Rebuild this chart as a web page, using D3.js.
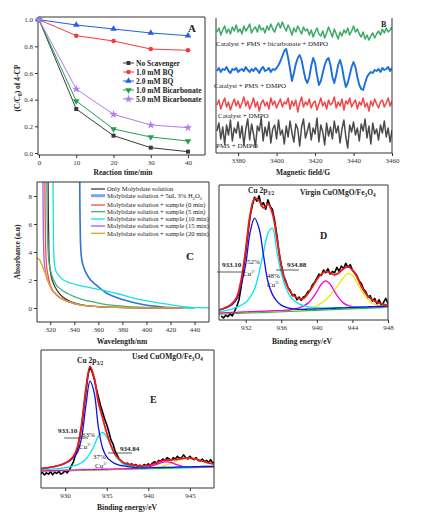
<!DOCTYPE html>
<html><head><meta charset="utf-8">
<script src="https://cdn.jsdelivr.net/npm/d3@7"></script>
<style>body{margin:0;background:#fff}</style>
</head><body><svg id="chart" width="427" height="530" style="background:#fff"></svg>
<script>
// ---------- Panel A data ----------
const timeA = [0, 10, 20, 30, 40];
const namesA = ["No Scavenger", "1.0 mM BQ", "2.0 mM BQ", "1.0 mM Bicarbonate", "5.0 mM Bicarbonate"];
const noScavenger = [1.0, 0.33, 0.13, 0.04, 0.01];
const bq1 = [1.0, 0.88, 0.84, 0.78, 0.77];
const bq2 = [1.0, 0.96, 0.93, 0.90, 0.88];
const bic1 = [1.0, 0.39, 0.18, 0.12, 0.09];
const bic5 = [1.0, 0.48, 0.29, 0.21, 0.19];
const xTicksA = [0, 10, 20, 30, 40];
const yTicksA = [0, 0.2, 0.4, 0.6, 0.8, 1.0];

// ---------- Panel B data (EPR, field step 1 G from 3369 G) ----------
const fieldStartB = 3369;
const labelsB = ["Catalyst + PMS + bicarbonate + DMPO", "Catalyst + PMS + DMPO", "Catalyst + DMPO", "PMS + DMPO"];
const eprBicarb = [121,125,118,123,127,120,124,119,126,122,128,121,
  124,119,127,122,125,129,120,124,126,121,128,123,
  125,120,127,123,129,124,121,127,130,125,131,126,
  122,128,124,118,125,121,127,123,119,126,122,124,
  118,123,116,121,125,119,117,122,115,120,126,121,
  116,124,119,114,121,117,123,120,125,118,122,127,
  121,124,119,116,121,114,118,113,117,120,115,119,
  122,118,124,120,125,121,123,126];
const eprPms = [82,85,81,84,83,86,82,80,84,83,85,81,
  83,84,82,86,83,81,84,82,85,83,80,84,
  86,82,83,85,81,84,83,
  85,88,92,97,102,104,95,84,72,80,
  89,95,98,93,83,74,70,76,87,95,
  90,78,68,72,80,88,93,95,88,76,
  70,78,88,93,86,75,66,70,78,86,
  91,86,76,68,64,63,70,76,79,81,
  80,83,82,84,81,85,83,84,86,82,85];
const eprCat = [48,53,44,50,55,46,51,43,49,54,47,52,
  45,50,56,47,52,44,49,55,46,51,42,50,
  53,47,51,44,55,48,52,45,50,54,46,51,
  49,55,44,52,47,53,41,50,56,46,51,48,
  54,45,50,52,43,49,55,47,51,44,53,48,
  50,56,45,51,47,54,43,52,49,55,46,50,
  53,44,51,48,55,46,50,42,52,47,54,49,
  45,51,53,46,50,55,47,52];
const eprPmsOnly = [22,30,14,26,9,28,18,33,12,25,20,31,
  15,27,8,24,34,13,29,19,6,27,22,35,
  12,26,17,31,10,24,28,14,33,18,23,9,
  27,16,32,20,11,29,24,7,26,34,15,22,
  30,13,25,19,35,11,28,21,8,30,17,26,
  14,32,20,27,10,24,33,16,5,28,21,31,
  18,25,12,29,22,34,15,27,9,30,19,24,
  13,28,20,32,16,25,11,23];
const xTicksB = [3380, 3400, 3420, 3440, 3460];

// ---------- Panel C data ----------
const labelsC = ["Only Molybdate solution", "Molybdate solution + 5uL 3% H2O2", "Molybdate solution + sample (0 min)",
  "Molybdate solution + sample (5 min)", "Molybdate solution + sample (10 min)", "Molybdate solution + sample (15 min)",
  "Molybdate solution + sample (20 min)"];
const cOnlyWl = [318.2, 318.5, 318.9, 319.5, 320.5, 322, 324, 327, 331, 336, 342, 350, 360, 375, 395, 430];
const cOnlyAbs = [9.5, 6.5, 4.2, 3.1, 2.4, 1.9, 1.5, 1.1, 0.75, 0.5, 0.32, 0.18, 0.09, 0.04, 0.01, 0.0];
const cH2O2Wl = [344.5, 344.7, 345, 345.4, 346, 347, 348.5, 350.5, 353, 356, 359.5, 363, 367, 372, 378, 386, 394, 402, 410, 420, 430];
const cH2O2Abs = [9.5, 7, 5.2, 4.2, 3.6, 3.15, 2.75, 2.4, 2.05, 1.8, 1.55, 1.3, 1.05, 0.85, 0.66, 0.46, 0.3, 0.18, 0.1, 0.03, 0.01];
const c0Wl = [315.5, 315.8, 316.2, 316.8, 317.8, 319.5, 321.5, 324, 327, 331, 335, 340, 346, 354, 363, 375, 395, 430];
const c0Abs = [9.5, 6.5, 4.3, 3.2, 2.5, 1.8, 1.33, 1.05, 0.8, 0.6, 0.45, 0.32, 0.21, 0.13, 0.08, 0.04, 0.01, 0.0];
const c5Wl = [317.1, 317.4, 317.8, 318.4, 319.2, 320.5, 322.5, 325, 329.5, 334, 340.5, 347, 354.5, 362, 371, 382, 395, 410, 425, 440];
const c5Abs = [9.5, 7, 5, 3.8, 3.1, 2.6, 2.05, 1.65, 1.29, 1.05, 0.8, 0.6, 0.45, 0.32, 0.2, 0.12, 0.06, 0.03, 0.01, 0.0];
const c10Wl = [322.3, 322.5, 322.7, 323, 323.6, 324.5, 326, 328, 331, 334, 338, 343, 349, 356, 363, 370, 377, 386, 395, 404, 414, 424, 433, 442, 452];
const c10Abs = [9.5, 7, 5, 3.8, 3.1, 2.7, 2.45, 2.24, 2.0, 1.87, 1.75, 1.63, 1.52, 1.4, 1.29, 1.15, 1.0, 0.78, 0.6, 0.45, 0.32, 0.18, 0.07, 0.02, 0.01];
const c15Wl = [313.9, 314.2, 314.6, 315.2, 316, 317.5, 319.5, 321.5, 324, 327, 331, 335, 340, 346, 354, 363, 375, 395, 430];
const c15Abs = [9.5, 6, 4, 3.1, 2.6, 2.08, 1.65, 1.28, 1.05, 0.8, 0.6, 0.45, 0.32, 0.21, 0.13, 0.08, 0.04, 0.01, 0.0];
const c20Wl = [309, 310.5, 311.5, 312.5, 313.5, 314.5, 316, 317.5, 319.5, 321.5, 324, 327, 331, 335, 340, 346, 354, 363, 375, 395, 430];
const c20Abs = [3.55, 3.5, 3.4, 3.2, 3.0, 2.75, 2.45, 2.05, 1.65, 1.28, 1.05, 0.8, 0.6, 0.45, 0.32, 0.21, 0.13, 0.08, 0.04, 0.01, 0.0];
const xTicksC = [320, 340, 360, 380, 400, 420, 440];
const yTicksC = [0, 2, 4, 6, 8];

// ---------- Panel D data (XPS virgin, fits on 0.5 eV grid from 929 eV; raw data 0.25 eV from 929.25 eV) ----------
const dGridStart = 929, dGridStep = 0.5;
const dCu2 = [7.5,8.3,9.5,11.5,15.5,26,41,65,75.5,68,48,28.5,19,14,11,9.5,8.6,8.2,7.9,7.9,8.0,8.1,8.2,8.3,8.5,8.6,8.7,8.9,9.0,9.1,9.2,9.4,9.5,9.6,9.8,9.9,10.0,10.2,10.3];
const dCu3 = [6,6.6,7.3,8.3,9.5,11,13,17,23,35,50,64,68,51,35,24,17.5,14,12,10.7,9.8,9.3,9.0,8.9,8.9,8.9,9.0,9.1,9.2,9.3,9.4,9.5,9.6,9.7,9.9,10.0,10.1,10.3,10.4];
const dSat1 = [5.2,5.3,5.5,5.6,5.7,5.9,6.0,6.1,6.3,6.4,6.5,6.6,6.8,6.9,7.0,7.3,7.6,8.2,9.0,10.5,12.5,16,21,26.5,29,26.5,21,16,12.5,10.8,9.9,9.6,9.5,9.5,9.6,9.7,9.8,10,10.1];
const dSat2 = [5.1,5.2,5.4,5.5,5.6,5.8,5.9,6.0,6.2,6.3,6.4,6.5,6.7,6.8,6.9,7.1,7.2,7.4,7.6,7.9,8.4,9.2,10.5,12.5,15,18.5,22.5,27,31.5,34.5,33,28,22,17,13.5,11.5,10.5,10,9.8];
const dEnvelope = [7.4,8.5,10,12.5,17,30,52,78,90,88.5,83,86,79,61,40,28,21,17.5,15.8,16,19.5,24.5,30,34,35.8,35,33.5,35,38,39.5,37,32,25,19.5,16,14,12.5,11.5,11];
const dBaseE = [929, 948];
const dBaseV = [4.3, 9.3];
const dRawStart = 929.25, dRawStep = 0.25;
const dRaw = [3,1.5,3.5,2.5,4.5,3,6.5,10,15,25,38,50,64,77,85,91,88,92,85,87,82,89,84,82,74,63,50,41,33,29,24,22,18,19,15,17,14.5,17,18,21,22,26,28,31,34,33,37,35,38,34,36,35,39,36,40,38,42,39,41,37,35,33,29,27,23,21,17,18,14,16,12,15,11,13,16,12];
const xTicksD = [932, 936, 940, 944, 948];

// ---------- Panel E data (XPS used, fits on 0.5 eV grid from 927 eV; raw 0.25 eV from 927 eV) ----------
const eGridStart = 927, eGridStep = 0.5;
const eCu2 = [14,14.4,14.8,15.3,16,16.8,18,19.5,22,26,37,60,77.5,69,44,29,22.5,19.5,17.7,16.6,16,15.5,15.1,14.8,14.6,14.5,14.6,14.7,14.7,14.8,14.9,15.0,15.0,15.1,15.2,15.3,15.3,15.4,15.5,15.6,15.6,15.7,15.8];
const eCu3 = [13.2,13.4,13.5,13.7,14,14.3,14.8,15.3,16,17,18.5,21,25,31,37.5,40.3,37,30.5,24,20,17.5,16.3,15.5,15,14.7,14.6,14.6,14.7,14.7,14.8,14.9,15.0,15.0,15.1,15.2,15.3,15.3,15.4,15.5,15.6,15.6,15.7,15.8];
const eSat1 = [12.4,12.5,12.6,12.6,12.7,12.8,12.9,12.9,13.0,13.1,13.2,13.3,13.3,13.4,13.5,13.6,13.6,13.7,13.8,13.9,13.9,14.0,14.1,14.2,14.5,14.8,15.3,16,17.1,18.2,18.9,18.8,17.9,16.8,15.9,15.4,15.2,15.2,15.3,15.4,15.4,15.5,15.6];
const eSat2 = [12.3,12.4,12.5,12.5,12.6,12.7,12.8,12.8,12.9,13.0,13.1,13.2,13.2,13.3,13.4,13.5,13.5,13.6,13.7,13.8,13.8,13.9,14.0,14.1,14.2,14.3,14.5,14.8,15.2,15.7,16.4,17.4,18.6,19.8,20.8,21.4,21.5,21.2,20.4,19.4,18.5,17.8,17.3];
const eEnvelope = [14,14.4,14.8,15.3,16,16.7,18,20,23,30,47,72,88,80,62,51,40,31,24.5,21,18.5,17.5,16.8,16.3,16,16,16.4,17.2,18.3,19.5,20.2,20.3,20.5,20.8,21.3,21.6,21.7,21.2,20.4,19.5,18.6,17.8,17.3];
const eBaseE = [927, 948];
const eBaseV = [12.0, 15.2];
const eRawStart = 927, eRawStep = 0.25;
const eRaw = [10,11.5,9.5,11,10,12,9.5,11.5,10.5,12,10,11,12.5,11,
  13,16,19,24,29,37,45,58,70,82,88,84,79,72,66,60,55,50,46,41,35,32,27,24,21,19.5,18,17,18,16.5,
  17.5,16,17,15.5,16.5,15.5,17,16,17.5,16.5,18,19,18,20,19.5,21,20,22,21,20,22,21,23,21.5,22,24,22,21,23,21.5,
  20.5,22,20,19.5,21,19,20,18.5,20.5,18,19];
const xTicksE = [930, 935, 940, 945];

// ================= drawing =================
const svg = d3.select("#chart");
const FONT = "'Liberation Serif','Times New Roman',serif";
const INK = "#222";
let clipN = 0;
function clip(x0, y0, x1, y1) {
  const id = "clp" + (clipN++);
  svg.append("clipPath").attr("id", id).append("rect")
    .attr("x", x0).attr("y", y0).attr("width", x1 - x0).attr("height", y1 - y0);
  return "url(#" + id + ")";
}
function box(x0, y0, x1, y1, sides) {
  const p = [];
  if (sides.includes("t")) p.push(`M${x0},${y0}H${x1}`);
  if (sides.includes("b")) p.push(`M${x0},${y1}H${x1}`);
  if (sides.includes("l")) p.push(`M${x0},${y0}V${y1}`);
  if (sides.includes("r")) p.push(`M${x1},${y0}V${y1}`);
  svg.append("path").attr("d", p.join("")).attr("fill", "none").attr("stroke", "#333").attr("stroke-width", 1);
}
function styleAxis(g) {
  g.select(".domain").remove();
  g.selectAll("line").attr("stroke", "#333");
  g.selectAll("text").style("font-family", FONT).style("font-size", "7px").attr("fill", "#333");
}
function bottomAxis(scale, y, ticks, fmt) {
  const g = svg.append("g").attr("transform", `translate(0,${y})`)
    .call(d3.axisBottom(scale).tickValues(ticks).tickSize(3).tickPadding(2).tickFormat(fmt || d3.format("d")));
  styleAxis(g);
}
function leftAxis(scale, x, ticks, fmt) {
  const g = svg.append("g").attr("transform", `translate(${x},0)`)
    .call(d3.axisLeft(scale).tickValues(ticks).tickSize(3).tickPadding(2).tickFormat(fmt || d3.format("d")));
  styleAxis(g);
}
// rich text: parts = [[str, mode]] mode: null | "sub" | "sup"
function rich(x, y, parts, size, weight, anchor, rotate) {
  const t = svg.append("text").attr("x", x).attr("y", y)
    .style("font-family", FONT).style("font-size", size + "px").style("font-weight", weight || "normal")
    .attr("fill", INK).attr("text-anchor", anchor || "start");
  if (rotate) t.attr("transform", `rotate(${rotate},${x},${y})`);
  let shift = 0;
  parts.forEach(([s, m]) => {
    const target = m === "sub" ? size * 0.3 : m === "sup" ? -size * 0.4 : 0;
    const ts = t.append("tspan").text(s).attr("dy", target - shift);
    if (m) ts.style("font-size", (size * 0.7) + "px");
    shift = target;
  });
  return t;
}

// ---------- Panel A ----------
{
  const L = 38, R = 205, T = 17, B = 155;
  const x = d3.scaleLinear([-0.27, 44.56], [L, R]);
  const y = d3.scaleLinear([-0.015, 1.02], [B, T]);
  const series = [noScavenger, bq1, bq2, bic1, bic5];
  const colors = ["#3a3a3a", "#f23a3a", "#1f5fe6", "#22a050", "#b07cf0"];
  const shapes = [d3.symbolSquare, d3.symbolCircle, d3.symbolTriangle, d3.symbolTriangle, d3.symbolStar];
  const rot = [0, 0, 0, 180, 0];
  const sizes = [16, 16, 18, 18, 22];
  box(L, T, R, B, "tblr");
  bottomAxis(x, B, xTicksA);
  leftAxis(y, L, yTicksA, d3.format(".1f"));
  const line = d3.line().x((d, i) => x(timeA[i])).y(d => y(d));
  series.forEach((s, k) => {
    svg.append("path").datum(s).attr("d", line).attr("fill", "none").attr("stroke", colors[k]).attr("stroke-width", 1);
    svg.selectAll(null).data(s).enter().append("path")
      .attr("d", d3.symbol().type(shapes[k]).size(sizes[k]))
      .attr("transform", (d, i) => `translate(${x(timeA[i])},${y(d)}) rotate(${rot[k]})`)
      .attr("fill", colors[k]);
  });
  namesA.forEach((n, k) => {
    const yy = 63 + k * 9;
    svg.append("line").attr("x1", 123).attr("x2", 134).attr("y1", yy).attr("y2", yy).attr("stroke", colors[k]).attr("stroke-width", 1);
    svg.append("path").attr("d", d3.symbol().type(shapes[k]).size(sizes[k]))
      .attr("transform", `translate(128.5,${yy}) rotate(${rot[k]})`).attr("fill", colors[k]);
    rich(136, yy + 2.5, [[n, null]], 7.5, "bold");
  });
  rich(188, 32, [["A", null]], 11, "bold");
  rich(123, 175, [["Reaction time/min", null]], 7.5, "bold", "middle");
  rich(20, 88, [["(C/C", null], ["0", "sub"], [") of 4-CP", null]], 7.5, "bold", "middle", -90);
}

// ---------- Panel B ----------
{
  const L = 216, R = 392, T = 18, B = 153;
  const x = d3.scaleLinear([3368.5, 3460], [L, R]);
  const y = d3.scaleLinear([0, 135], [B, T]);
  const cp = clip(L, T - 4, R, B);
  const line = d3.line().x((d, i) => x(fieldStartB + i)).y(d => y(d));
  const traces = [eprPmsOnly, eprCat, eprPms, eprBicarb];
  const colors = ["#4a4a4a", "#f04848", "#1c6fe0", "#3aaa66"];
  const widths = [1.5, 1.5, 1.9, 1.5];
  traces.forEach((s, k) => {
    svg.append("path").datum(s).attr("d", line).attr("clip-path", cp)
      .attr("fill", "none").attr("stroke", colors[k]).attr("stroke-width", widths[k]).attr("stroke-linejoin", "round");
  });
  box(L, T, R, B, "blr");
  bottomAxis(x, B, xTicksB);
  const ly = [46, 88, 118, 148];
  const lx = [216, 214, 218, 216];
  labelsB.forEach((t, k) => rich(lx[k], ly[k], [[t, null]], 7, "normal"));
  rich(381, 27, [["B", null]], 8, "bold");
  rich(303, 175, [["Magnetic field/G", null]], 7.5, "bold", "middle");
}

// ---------- Panel C ----------
{
  const L = 37, R = 209, T = 182, B = 322;
  const x = d3.scaleLinear([309, 452], [L, R]);
  const y = d3.scaleLinear([-1, 9], [B, T]);
  const cp = clip(L, T, R, B);
  const curves = [
    [cOnlyWl, cOnlyAbs, "#333333", 1.2],
    [cH2O2Wl, cH2O2Abs, "#2f72e0", 1.6],
    [c0Wl, c0Abs, "#f24c4c", 1.3],
    [c5Wl, c5Abs, "#3fb37a", 1.3],
    [c10Wl, c10Abs, "#18e0e0", 1.3],
    [c15Wl, c15Abs, "#a060e8", 1.3],
    [c20Wl, c20Abs, "#e3a21a", 1.3]
  ];
  curves.forEach(([wl, ab, col, w]) => {
    const line = d3.line().x((d, i) => x(wl[i])).y(d => y(d)).curve(d3.curveMonotoneX);
    svg.append("path").datum(ab).attr("d", line).attr("clip-path", cp)
      .attr("fill", "none").attr("stroke", col).attr("stroke-width", w);
  });
  box(L, T, R, B, "tblr");
  bottomAxis(x, B, xTicksC);
  leftAxis(y, L, yTicksC);
  const legCols = ["#333333", "#76a6f0", "#f24c4c", "#3fb37a", "#18e0e0", "#a060e8", "#e3a21a"];
  const legW = [1.2, 3, 1.3, 1.3, 1.3, 1.3, 1.3];
  const rows = [189, 195.7, 205, 211.7, 219, 226, 233.3];
  labelsC.forEach((t, k) => {
    svg.append("line").attr("x1", 91).attr("x2", 105).attr("y1", rows[k]).attr("y2", rows[k])
      .attr("stroke", legCols[k]).attr("stroke-width", legW[k]);
    let parts = [[t, null]];
    if (t.endsWith("H2O2")) parts = [[t.slice(0, -4) + "H", null], ["2", "sub"], ["O", null], ["2", "sub"]];
    rich(107, rows[k] + 2.3, parts, 6.6, "normal");
  });
  rich(186, 260, [["C", null]], 11, "bold");
  rich(122, 344, [["Wavelength/nm", null]], 7.5, "bold", "middle");
  rich(20, 252, [["Absorbance (a.u)", null]], 7.5, "bold", "middle", -90);
}

// ---------- XPS helper ----------
function xpsPanel(P) {
  const x = d3.scaleLinear(P.xDomain, [P.L, P.R]);
  const y = d3.scaleLinear([0, 100], [P.B, P.T]);
  const cp = clip(P.L, P.T, P.R, P.B);
  const gridLine = d3.line().x((d, i) => x(P.gStart + i * P.gStep)).y(d => y(d)).curve(d3.curveCatmullRom);
  const rawLine = d3.line().x((d, i) => x(P.rStart + i * P.rStep)).y(d => y(d));
  const baseLine = d3.line().x((d, i) => x(P.baseE[i])).y(d => y(d));
  svg.append("path").datum(P.baseV).attr("d", baseLine).attr("clip-path", cp).attr("fill", "none").attr("stroke", "#22cc22").attr("stroke-width", 1.3);
  svg.append("path").datum(P.raw).attr("d", rawLine).attr("clip-path", cp).attr("fill", "none").attr("stroke", "#000").attr("stroke-width", 1.6).attr("stroke-linejoin", "round");
  const comps = [[P.sat2, "#ecec00"], [P.sat1, "#ee00ee"], [P.cu3, "#00e6ee"], [P.cu2, "#1010e6"], [P.env, "#ee1a1a"]];
  comps.forEach(([s, c], k) => {
    svg.append("path").datum(s).attr("d", gridLine).attr("clip-path", cp).attr("fill", "none")
      .attr("stroke", c).attr("stroke-width", k === 4 ? 1.8 : 1.3);
  });
  box(P.L, P.T, P.R, P.B, "tblr");
  bottomAxis(x, P.B, P.ticks);
  return { x, y };
}

// ---------- Panel D ----------
{
  xpsPanel({ L: 219, R: 388, T: 185, B: 320, xDomain: [929, 948], gStart: dGridStart, gStep: dGridStep,
    rStart: dRawStart, rStep: dRawStep, raw: dRaw, cu2: dCu2, cu3: dCu3, sat1: dSat1, sat2: dSat2, env: dEnvelope,
    baseE: dBaseE, baseV: dBaseV, ticks: xTicksD });
  rich(248, 193, [["Cu 2p", null], ["3/2", "sub"]], 7.5, "bold");
  rich(300, 195, [["Virgin CuOMgO/Fe", null], ["3", "sub"], ["O", null], ["4", "sub"]], 7.5, "bold");
  rich(320, 239, [["D", null]], 10, "bold");
  rich(222, 267, [["933.10", null]], 7, "bold");
  svg.append("line").attr("x1", 217).attr("x2", 243).attr("y1", 272).attr("y2", 272).attr("stroke", "#333").attr("stroke-width", 0.8);
  rich(247, 264, [["52%", null]], 7, "normal");
  rich(243, 276, [["Cu", null], ["2+", "sup"]], 7, "normal");
  rich(287, 267, [["934.88", null]], 7, "bold");
  svg.append("line").attr("x1", 276).attr("x2", 299).attr("y1", 270).attr("y2", 270).attr("stroke", "#333").attr("stroke-width", 0.8);
  rich(267, 278, [["48%", null]], 7, "normal");
  rich(267, 287, [["Cu", null], ["3+", "sup"]], 7, "normal");
  rich(302, 344, [["Binding energy/eV", null]], 7.5, "bold", "middle");
}

// ---------- Panel E ----------
{
  xpsPanel({ L: 41, R: 214, T: 350, B: 488, xDomain: [927.1, 947.9], gStart: eGridStart, gStep: eGridStep,
    rStart: eRawStart, rStep: eRawStep, raw: eRaw, cu2: eCu2, cu3: eCu3, sat1: eSat1, sat2: eSat2, env: eEnvelope,
    baseE: eBaseE, baseV: eBaseV, ticks: xTicksE });
  rich(77, 363, [["Cu 2p", null], ["3/2", "sub"]], 7.5, "bold");
  rich(132, 359, [["Used CuOMgO/Fe", null], ["3", "sub"], ["O", null], ["4", "sub"]], 7.5, "bold");
  rich(150, 403, [["E", null]], 10, "bold");
  rich(58, 433, [["933.10", null]], 7, "bold");
  svg.append("line").attr("x1", 64).attr("x2", 88).attr("y1", 438).attr("y2", 438).attr("stroke", "#333").attr("stroke-width", 0.8);
  rich(82, 437, [["63%", null]], 7, "normal");
  rich(79, 449, [["Cu", null], ["2+", "sup"]], 7, "normal");
  rich(120, 451, [["934.84", null]], 7, "bold");
  svg.append("line").attr("x1", 108).attr("x2", 132).attr("y1", 453).attr("y2", 453).attr("stroke", "#333").attr("stroke-width", 0.8);
  rich(93, 459, [["37%", null]], 7, "normal");
  rich(95, 468, [["Cu", null], ["3+", "sup"]], 7, "normal");
  rich(127, 510, [["Binding energy/eV", null]], 7.5, "bold", "middle");
}
</script></body></html>
